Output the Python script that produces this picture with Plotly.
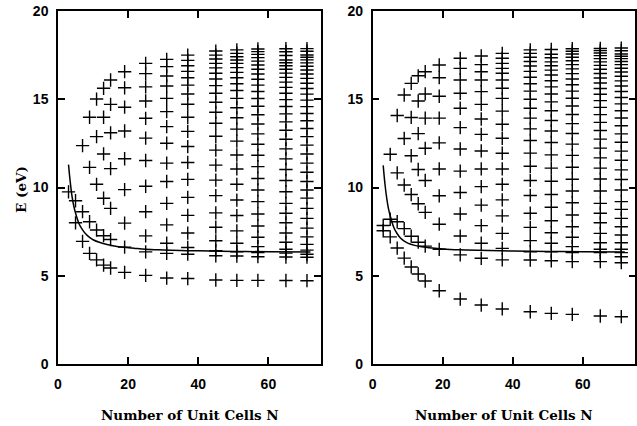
import plotly.graph_objects as go

# ---- data (energies in eV) ----
N_cols = [3, 5, 7, 9, 11, 13, 15, 19, 25, 31, 37, 45, 51, 57, 65, 71]

# left panel levels per N
L3 = [9.75]
L5 = [9.25, 8.0]
L7 = [12.37, 8.63, 6.95]
L9 = [13.98, 11.14, 8.06, 6.27]
L11 = [15.01, 12.88, 10.18, 7.59, 5.9]
L13 = [15.62, 13.98, 11.9, 9.39, 7.27, 5.6]
L15 = [16.09, 14.71, 13.1, 11.07, 8.82, 7.05, 5.44]
L19 = [16.56, 15.65, 14.55, 13.2, 11.63, 9.88, 7.98, 6.62, 5.19]
L25 = [17.03, 16.45, 15.7, 14.9, 13.92, 12.8, 11.53, 10.07, 8.63, 7.26, 6.35, 5.02]
L31 = [17.26, 16.85, 16.32, 15.75, 15.05, 14.3, 13.45, 12.51, 11.38, 10.34, 9.1, 7.88, 6.84, 6.27, 4.87]
L37 = [17.5, 17.2, 16.9, 16.58, 16.22, 15.8, 15.3, 14.72, 13.98, 13.18, 12.32, 11.42, 10.46, 9.44, 8.42, 7.42, 6.6, 6.22, 4.84]
L45 = [17.73, 17.5, 17.28, 17.03, 16.78, 16.47, 16.15, 15.77, 15.34, 14.83, 14.26, 13.64, 12.9, 12.12, 11.27, 10.42, 9.54, 8.56, 7.75, 6.98, 6.42, 6.13, 4.76]
L51 = [17.8, 17.6, 17.41, 17.22, 17.03, 16.79, 16.52, 16.22, 15.88, 15.5, 15.05, 14.52, 13.95, 13.31, 12.63, 11.84, 11.05, 10.18, 9.29, 8.41, 7.54, 6.84, 6.36, 6.12, 4.74]
L57 = [17.85, 17.7, 17.54, 17.36, 17.16, 16.94, 16.7, 16.43, 16.13, 15.8, 15.44, 15.04, 14.6, 14.12, 13.6, 13.04, 12.45, 11.83, 11.18, 10.51, 9.86, 9.2, 8.5, 7.82, 7.18, 6.65, 6.31, 6.08, 4.74]
L65 = [17.86, 17.69, 17.48, 17.22, 17.07, 16.9, 16.7, 16.48, 16.24, 15.97, 15.67, 15.34, 14.98, 14.59, 14.17, 13.72, 13.24, 12.73, 12.19, 11.62, 11.02, 10.4, 9.76, 9.1, 8.54, 8.0, 7.42, 6.9, 6.5, 6.28, 6.06, 4.73]
L71 = [17.87, 17.72, 17.51, 17.38, 17.23, 17.06, 16.87, 16.66, 16.43, 16.18, 15.91, 15.61, 15.29, 14.95, 14.58, 14.19, 13.78, 13.34, 12.88, 12.4, 11.9, 11.38, 10.86, 10.34, 9.86, 9.4, 8.82, 8.25, 7.7, 7.2, 6.78, 6.45, 6.22, 6.05, 4.72]

# right panel levels per N
R3 = [7.85, 7.55]
R5 = [11.88, 8.2, 7.2]
R7 = [14.08, 10.83, 8.06, 6.57]
R9 = [15.24, 12.78, 10.14, 7.67, 6.0]
R11 = [15.9, 13.97, 11.8, 9.6, 7.24, 5.5]
R13 = [16.33, 14.9, 13.05, 11.02, 9.08, 6.9, 5.1]
R15 = [16.56, 15.3, 13.93, 12.22, 10.4, 8.59, 6.68, 4.7]
R19 = [16.94, 16.22, 15.17, 13.93, 12.53, 11.05, 9.53, 7.92, 6.5, 4.15]
R25 = [17.32, 16.75, 16.09, 15.34, 14.49, 13.39, 12.18, 10.93, 9.72, 8.5, 7.25, 6.18, 3.68]
R31 = [17.45, 16.96, 16.56, 16.09, 15.43, 14.71, 13.88, 13.01, 12.07, 11.05, 10.05, 9.0, 7.84, 6.84, 5.99, 3.34]
R37 = [17.6, 17.32, 17.03, 16.75, 16.47, 16.09, 15.62, 15.05, 14.33, 13.58, 12.79, 11.94, 11.05, 10.18, 9.3, 8.39, 7.4, 6.55, 5.9, 3.12]
R45 = [17.8, 17.6, 17.38, 17.14, 16.88, 16.58, 16.25, 15.88, 15.46, 15.0, 14.49, 13.93, 13.32, 12.66, 11.95, 11.2, 10.4, 9.55, 8.54, 7.74, 6.99, 6.36, 5.89, 2.96]
R51 = [17.82, 17.55, 17.35, 17.12, 16.9, 16.65, 16.37, 16.05, 15.7, 15.3, 14.85, 14.35, 13.8, 13.2, 12.55, 11.85, 11.1, 10.35, 9.6, 8.88, 8.12, 7.44, 6.84, 6.36, 5.85, 2.87]
R57 = [17.86, 17.72, 17.56, 17.38, 17.18, 16.96, 16.72, 16.45, 16.15, 15.82, 15.46, 15.06, 14.62, 14.14, 13.62, 13.06, 12.46, 11.82, 11.15, 10.47, 9.8, 9.14, 8.44, 7.78, 7.18, 6.65, 6.31, 5.8, 2.81]
R65 = [17.88, 17.76, 17.62, 17.47, 17.3, 17.12, 16.92, 16.7, 16.46, 16.2, 15.92, 15.61, 15.28, 14.92, 14.54, 14.13, 13.69, 13.23, 12.74, 12.23, 11.68, 11.1, 10.48, 9.8, 9.1, 8.54, 8.0, 7.4, 6.87, 6.5, 6.31, 5.8, 2.72]
R71 = [17.9, 17.75, 17.56, 17.44, 17.3, 17.14, 16.96, 16.76, 16.54, 16.3, 16.04, 15.75, 15.44, 15.1, 14.74, 14.35, 13.94, 13.5, 13.04, 12.56, 12.06, 11.54, 11.0, 10.45, 9.86, 9.2, 8.76, 8.25, 7.78, 7.31, 6.87, 6.5, 6.31, 6.08, 5.74, 2.68]

# solid curves
curveL_N = [3, 3.5, 4, 4.5, 5, 6, 7, 8, 9, 10, 12, 14, 16, 19, 22, 25, 30, 35, 40, 50, 60, 72]
curveL_E = [11.3, 10.3, 9.5, 8.95, 8.55, 7.95, 7.6, 7.35, 7.17, 7.04, 6.88, 6.77, 6.69, 6.61, 6.55, 6.5, 6.46, 6.43, 6.41, 6.38, 6.36, 6.35]
curveR_N = [3, 3.5, 4, 4.5, 5, 6, 7, 8, 9, 10, 12, 14, 17, 20, 25, 30, 40, 50, 60, 72]
curveR_E = [11.25, 10.2, 9.4, 8.8, 8.4, 7.75, 7.38, 7.12, 6.96, 6.85, 6.72, 6.64, 6.57, 6.52, 6.47, 6.44, 6.4, 6.38, 6.36, 6.35]

x_ticks = [0, 20, 40, 60]
y_ticks = [0, 5, 10, 15, 20]
x_title = "Number of Unit Cells N"
y_title = "E (eV)"

left_cols = [L3, L5, L7, L9, L11, L13, L15, L19, L25, L31, L37, L45, L51, L57, L65, L71]
right_cols = [R3, R5, R7, R9, R11, R13, R15, R19, R25, R31, R37, R45, R51, R57, R65, R71]


def flatten(cols):
    xs, ys = [], []
    for n, col in zip(N_cols, cols):
        for e in col:
            xs.append(n)
            ys.append(e)
    return xs, ys


W, H = 637, 426
fig = go.Figure()
marker = dict(symbol="cross-thin", size=9.5, color="black", line=dict(width=1.4, color="black"))

lx, ly = flatten(left_cols)
rx, ry = flatten(right_cols)
fig.add_trace(go.Scatter(x=lx, y=ly, mode="markers", marker=marker, xaxis="x", yaxis="y",
                         showlegend=False, cliponaxis=False))
fig.add_trace(go.Scatter(x=curveL_N, y=curveL_E, mode="lines", line=dict(color="black", width=1.5, shape="spline"),
                         xaxis="x", yaxis="y", showlegend=False))
fig.add_trace(go.Scatter(x=rx, y=ry, mode="markers", marker=marker, xaxis="x2", yaxis="y2",
                         showlegend=False, cliponaxis=False))
fig.add_trace(go.Scatter(x=curveR_N, y=curveR_E, mode="lines", line=dict(color="black", width=1.5, shape="spline"),
                         xaxis="x2", yaxis="y2", showlegend=False))

tickfont = dict(family="Liberation Sans", size=14, color="black", weight="bold")
ax_common = dict(showline=True, linecolor="black", linewidth=1.5, mirror="ticks", ticks="inside",
                 ticklen=7, tickwidth=1.5, tickcolor="black", showgrid=False, zeroline=False,
                 tickfont=tickfont, automargin=False)

ydom = [1 - 364 / H, 1 - 11 / H]
fig.update_layout(
    width=W, height=H, margin=dict(l=0, r=0, t=0, b=0, pad=0, autoexpand=False),
    paper_bgcolor="white", plot_bgcolor="white",
    xaxis=dict(domain=[58 / W, 321 / W], range=[0, 75], tickvals=x_ticks, anchor="y",
               ticklabelstandoff=6, **ax_common),
    yaxis=dict(domain=ydom, range=[0, 20], tickvals=y_ticks, anchor="x",
               ticklabelstandoff=5, **ax_common),
    xaxis2=dict(domain=[372.7 / W, 635.3 / W], range=[0, 75], tickvals=x_ticks, anchor="y2",
                ticklabelstandoff=6, **ax_common),
    yaxis2=dict(domain=ydom, range=[0, 20], tickvals=y_ticks, anchor="x2",
                ticklabelstandoff=5, **ax_common),
)

titlefont = dict(family="DejaVu Serif", size=13.5, color="black", weight="bold")
fig.add_annotation(text=y_title, xref="paper", yref="paper", x=21 / W, y=1 - 190 / H,
                   textangle=-90, showarrow=False, font=titlefont, xanchor="center", yanchor="middle")
fig.add_annotation(text=x_title, xref="paper", yref="paper", x=189.5 / W, y=1 - 415 / H,
                   showarrow=False, font=titlefont, xanchor="center", yanchor="middle")
fig.add_annotation(text=x_title, xref="paper", yref="paper", x=504 / W, y=1 - 415 / H,
                   showarrow=False, font=titlefont, xanchor="center", yanchor="middle")

fig.write_html("out.html")
